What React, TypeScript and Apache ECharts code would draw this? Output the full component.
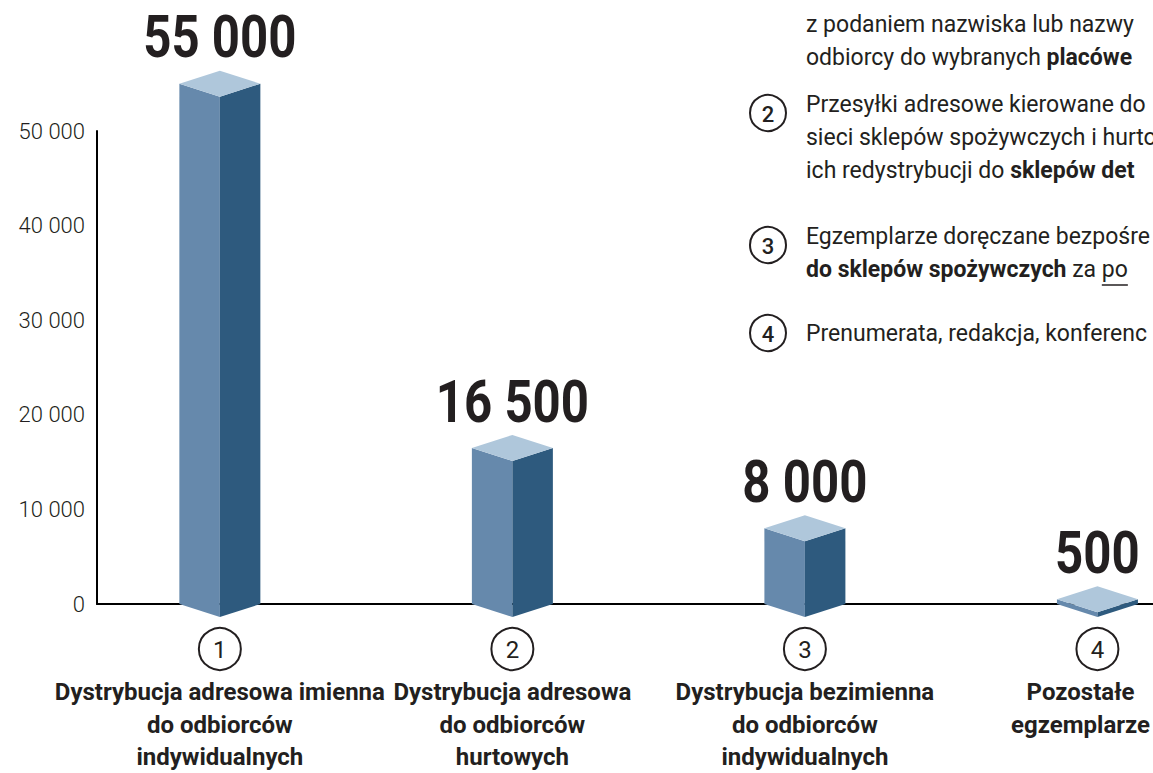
import React, { useEffect, useRef } from 'react';
import * as echarts from 'echarts';

// ---- data ----
const categories = [
  'Dystrybucja adresowa imienna\ndo odbiorców\nindywidualnych',
  'Dystrybucja adresowa\ndo odbiorców\nhurtowych',
  'Dystrybucja bezimienna\ndo odbiorców\nindywidualnych',
  'Pozostałe\negzemplarze',
];
const categoryNumbers = ['1', '2', '3', '4'];
const values = [55000, 16500, 8000, 500];
const valueLabels = ['55 000', '16 500', '8 000', '500'];
const yMin = 0;
const yMax = 50000;
const yInterval = 10000;

const legendFirstLines = [
  'z podaniem nazwiska lub nazwy',
  'odbiorcy do wybranych {b|placówe}',
];
const legendItems = [
  {
    num: '2',
    lines: [
      'Przesyłki adresowe kierowane do',
      'sieci sklepów spożywczych i hurto',
      'ich redystrybucji do {b|sklepów det}',
    ],
  },
  {
    num: '3',
    lines: ['Egzemplarze doręczane bezpośre', '{b|do sklepów spożywczych} za po'],
  },
  { num: '4', lines: ['Prenumerata, redakcja, konferenc'] },
];

const INK = '#231f20';
const LEFT_FACE = '#6689ac';
const RIGHT_FACE = '#2e5a7e';
const TOP_FACE = '#afc7db';
const FONT = 'Roboto';
const LEGEND_FS = 23;

function fmt(v: number) {
  return String(v).replace(/\B(?=(\d{3})+(?!\d))/g, ' ');
}

export default function App() {
  const ref = useRef<HTMLDivElement>(null);

  useEffect(() => {
    if (!ref.current) return;
    const chart = echarts.init(ref.current, undefined, { renderer: 'svg' });

    const cv = document.createElement('canvas');
    const ctx = cv.getContext('2d')!;
    ctx.font = `bold ${LEGEND_FS}px ${FONT}`;
    const wBold = ctx.measureText('do sklepów spożywczych').width;
    ctx.font = `${LEGEND_FS}px ${FONT}`;
    const wZa = ctx.measureText(' za ').width;
    const wPo = ctx.measureText('po').width;
    ctx.font = `bold 24px ${FONT}`;
    const catHalfW = categories.map(
      (c) => Math.max(...c.split('\n').map((l) => ctx.measureText(l).width)) / 2
    );

    const lineH = 33;
    const textX = 806;
    const circX = 768;
    const rich = {
      b: { fontFamily: FONT, fontSize: LEGEND_FS, fontWeight: 'bold', fill: INK },
    };
    const legendGraphics: any[] = [];
    const pushLine = (txt: string, y: number) => {
      legendGraphics.push({
        type: 'text',
        x: textX,
        y,
        style: {
          text: txt,
          fontFamily: FONT,
          fontSize: LEGEND_FS,
          fill: INK,
          textAlign: 'left',
          textVerticalAlign: 'middle',
          rich,
        },
      });
    };
    legendFirstLines.forEach((l, i) => pushLine(l, 24 + i * lineH));
    const itemStarts = [104, 236, 333];
    legendItems.forEach((it, k) => {
      const y0 = itemStarts[k];
      const cy = it.lines.length > 1 ? y0 + 9 : y0;
      legendGraphics.push({
        type: 'circle',
        shape: { cx: circX, cy, r: 18 },
        style: { fill: '#fff', stroke: INK, lineWidth: 2 },
      });
      legendGraphics.push({
        type: 'text',
        x: circX,
        y: cy + 1,
        style: {
          text: it.num,
          fontFamily: FONT,
          fontSize: 22,
          fontWeight: 500,
          fill: INK,
          textAlign: 'center',
          textVerticalAlign: 'middle',
        },
      });
      it.lines.forEach((l, i) => pushLine(l, y0 + i * lineH));
    });
    const ulX = textX + wBold + wZa;
    legendGraphics.push({
      type: 'line',
      shape: { x1: ulX, y1: 236 + lineH + 16, x2: ulX + wPo, y2: 236 + lineH + 16 },
      style: { stroke: INK, lineWidth: 1.5 },
    });

    const data = values.map((v, i) => [i, v]);

    chart.setOption({
      animation: false,
      backgroundColor: '#fff',
      grid: { left: 97, right: 0, top: 131, bottom: 169, containLabel: false },
      xAxis: {
        type: 'value',
        min: -0.42,
        max: 3.19,
        axisLine: { show: true, onZero: true, lineStyle: { color: '#000', width: 2 } },
        axisTick: { show: false },
        axisLabel: { show: false },
        splitLine: { show: false },
      },
      yAxis: {
        type: 'value',
        min: yMin,
        max: yMax,
        interval: yInterval,
        axisLine: { show: true, onZero: false, lineStyle: { color: '#000', width: 2 } },
        axisTick: { show: false },
        splitLine: { show: false },
        axisLabel: {
          margin: 12,
          formatter: (v: number) => fmt(v),
          fontFamily: FONT,
          fontWeight: 300,
          fontSize: 22,
          color: INK,
        },
      },
      graphic: legendGraphics,
      series: [
        {
          type: 'custom',
          clip: false,
          data,
          renderItem: (params: any, api: any) => {
            const idx = params.dataIndex;
            const base = api.coord([api.value(0), 0]);
            const top = api.coord([api.value(0), api.value(1)]);
            const x = base[0];
            const y0 = base[1];
            const y1 = top[1];
            const hw = 40.5;
            const d = 13;
            const labelX = Math.min(x, api.getWidth() - 3 - catHalfW[idx]);
            return {
              type: 'group',
              children: [
                {
                  type: 'polygon',
                  shape: { points: [[x - hw, y1], [x, y1 + d], [x, y0 + d], [x - hw, y0]] },
                  style: { fill: LEFT_FACE },
                },
                {
                  type: 'polygon',
                  shape: { points: [[x, y1 + d], [x + hw, y1], [x + hw, y0], [x, y0 + d]] },
                  style: { fill: RIGHT_FACE },
                },
                {
                  type: 'polygon',
                  shape: { points: [[x - hw, y1], [x, y1 - d], [x + hw, y1], [x, y1 + d]] },
                  style: { fill: TOP_FACE },
                },
                {
                  type: 'text',
                  x,
                  y: y1 - d - 34,
                  scaleX: 0.82,
                  style: {
                    text: valueLabels[idx],
                    fontFamily: FONT,
                    fontWeight: 'bold',
                    fontSize: 60,
                    fill: INK,
                    textAlign: 'center',
                    textVerticalAlign: 'middle',
                  },
                },
                {
                  type: 'circle',
                  shape: { cx: x, cy: y0 + 45, r: 21 },
                  style: { fill: '#fff', stroke: INK, lineWidth: 2 },
                },
                {
                  type: 'text',
                  x,
                  y: y0 + 46,
                  style: {
                    text: categoryNumbers[idx],
                    fontFamily: FONT,
                    fontSize: 24,
                    fontWeight: 400,
                    fill: INK,
                    textAlign: 'center',
                    textVerticalAlign: 'middle',
                  },
                },
                {
                  type: 'text',
                  x: labelX,
                  y: y0 + 72,
                  style: {
                    text: categories[idx],
                    fontFamily: FONT,
                    fontSize: 24,
                    fontWeight: 'bold',
                    lineHeight: 32.5,
                    fill: INK,
                    textAlign: 'center',
                    textVerticalAlign: 'top',
                  },
                },
              ],
            };
          },
        },
      ],
    });

    return () => chart.dispose();
  }, []);

  return (
    <div
      ref={ref}
      style={{ position: 'absolute', left: 0, top: 0, width: 1153, height: 773, background: '#fff' }}
    />
  );
}
